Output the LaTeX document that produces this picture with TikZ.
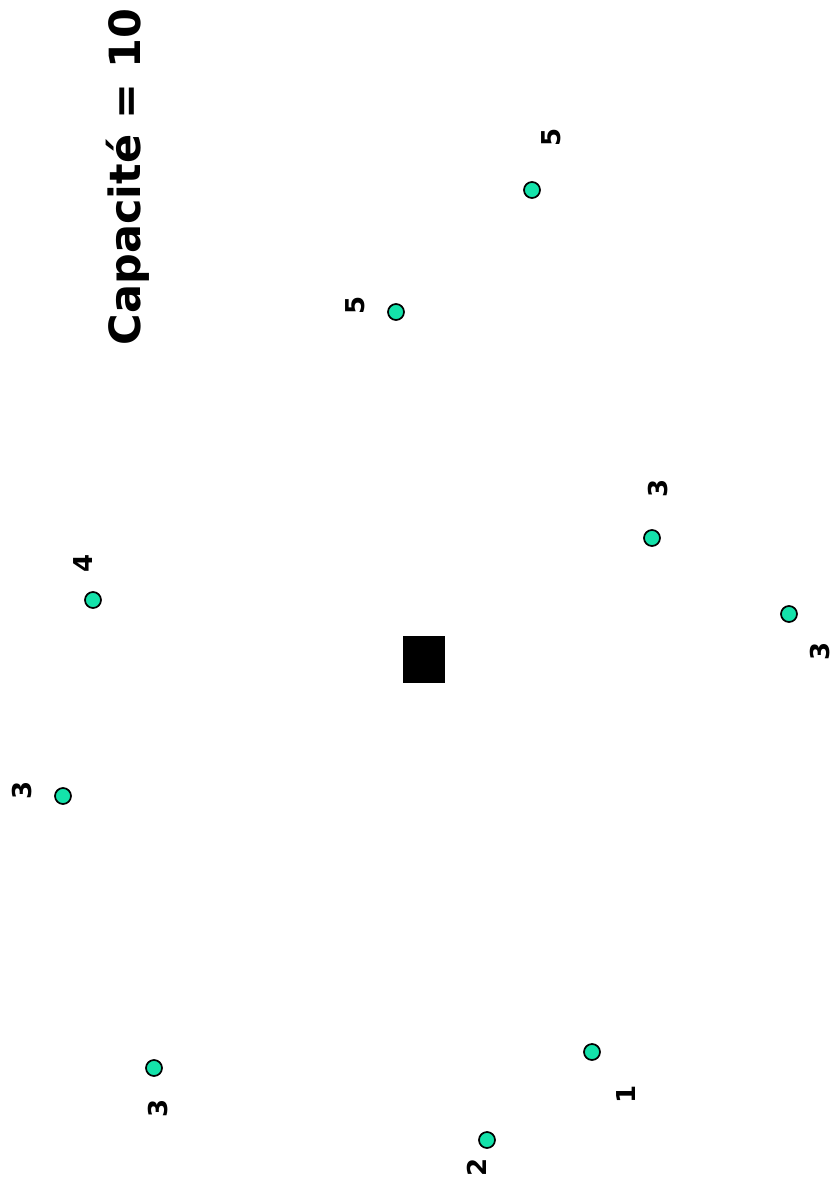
\documentclass[tikz,border=0pt]{standalone}
\usepackage{fontspec}
\setmainfont{DejaVu Sans}
\definecolor{cli}{RGB}{20,226,170}
\tikzset{
  client/.style={circle,draw=black,line width=1.7pt,fill=cli,minimum size=16pt,inner sep=0pt},
  dem/.style={font=\bfseries\fontsize{26}{26}\selectfont,rotate=90,inner sep=0pt},
  depot/.style={fill=black,draw=none,minimum width=42pt,minimum height=47pt,inner sep=0pt}
}
\begin{document}
\begin{tikzpicture}[x=1pt,y=-1pt]
\useasboundingbox (0,0) rectangle (835,1193);
\node[font=\bfseries\fontsize{43}{43}\selectfont,rotate=90,inner sep=0pt] (title) at (128,177) {Capacité = 10};
\node[depot] (depot) at (424,659.5) {};
\node[client] (a) at (532,190) {};
\node[dem] (la) at (551,137) {5};
\node[client] (b) at (396,312) {};
\node[dem] (lb) at (355,305) {5};
\node[client] (c) at (652,538) {};
\node[dem] (lc) at (658,488) {3};
\node[client] (d) at (789,614) {};
\node[dem] (ld) at (820,651) {3};
\node[client] (e) at (93,600) {};
\node[dem] (le) at (83,563) {4};
\node[client] (f) at (63,796) {};
\node[dem] (lf) at (22,790) {3};
\node[client] (g) at (154,1068) {};
\node[dem] (lg) at (158,1108) {3};
\node[client] (h) at (592,1052) {};
\node[dem] (lh) at (626,1094) {1};
\node[client] (i) at (487,1140) {};
\node[dem] (li) at (477,1167) {2};
\end{tikzpicture}
\end{document}
